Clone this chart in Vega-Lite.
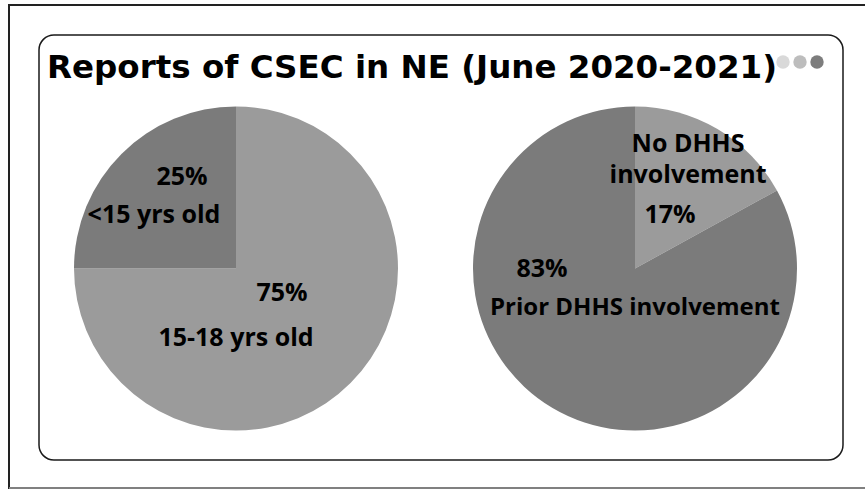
{
  "$schema": "https://vega.github.io/schema/vega-lite/v6.json",
  "width": 804,
  "height": 425,
  "autosize": {"type": "none"},
  "padding": {"left": 39, "top": 35, "right": 22, "bottom": 29},
  "background": "white",
  "config": {
    "view": {"stroke": "#1a1a1a", "strokeWidth": 1.5, "cornerRadius": 15},
    "font": "Open Sans"
  },
  "title": {
    "text": "Reports of CSEC in NE (June 2020-2021)",
    "anchor": "start",
    "font": "DejaVu Sans",
    "fontSize": 32.5,
    "fontWeight": "bold",
    "color": "black",
    "offset": -107,
    "baseline": "alphabetic",
    "dx": 39
  },
  "datasets": {
    "slices": [
      {"chart": "Age", "slice": "15-18 yrs old", "share": 0.75, "order": 1},
      {"chart": "Age", "slice": "<15 yrs old", "share": 0.25, "order": 2},
      {"chart": "DHHS", "slice": "No DHHS\ninvolvement", "share": 0.17, "order": 1},
      {"chart": "DHHS", "slice": "Prior DHHS involvement", "share": 0.83, "order": 2}
    ],
    "dots": [{"dot": "a"}, {"dot": "b"}, {"dot": "c"}]
  },
  "resolve": {"scale": {"x": "independent", "color": "independent"}},
  "layer": [
    {
      "data": {"values": [{}]},
      "mark": {"type": "rule", "color": "#222222", "strokeWidth": 2, "clip": false},
      "encoding": {"x": {"value": -30}, "x2": {"value": 830}, "y": {"value": -30}}
    },
    {
      "data": {"values": [{}]},
      "mark": {"type": "rule", "color": "#222222", "strokeWidth": 2, "clip": false},
      "encoding": {"x": {"value": -30}, "y": {"value": -31}, "y2": {"value": 454}}
    },
    {
      "data": {"values": [{}]},
      "mark": {"type": "rule", "color": "#808080", "strokeWidth": 2, "clip": false},
      "encoding": {"x": {"value": -30}, "x2": {"value": 830}, "y": {"value": 453}}
    },
    {
      "data": {"name": "dots"},
      "mark": {"type": "point", "filled": true, "opacity": 1, "size": 180, "yOffset": -185.5, "shape": "circle"},
      "encoding": {
        "x": {"field": "dot", "type": "nominal", "scale": {"type": "point", "domain": ["a", "b", "c"], "range": [744, 778], "padding": 0}, "axis": null},
        "color": {"field": "dot", "type": "nominal", "scale": {"domain": ["a", "b", "c"], "range": ["#d9d9d9", "#bdbdbd", "#7d7d7d"]}, "legend": null}
      }
    },
    {
      "layer": [
        {
          "data": {"name": "slices"},
          "transform": [
            {"stack": "share", "groupby": ["chart"], "sort": [{"field": "order"}], "as": ["t0", "t1"]}
          ],
          "mark": {"type": "arc", "outerRadius": 162, "yOffset": 21},
          "encoding": {
            "x": {"field": "chart", "type": "nominal", "scale": {"type": "point", "domain": ["Age", "DHHS"], "range": [197, 596], "padding": 0}, "axis": null},
            "theta": {"field": "t0", "type": "quantitative", "scale": {"domain": [0, 1]}, "stack": null},
            "theta2": {"field": "t1"},
            "color": {"field": "slice", "type": "nominal", "scale": {"domain": ["15-18 yrs old", "<15 yrs old", "No DHHS\ninvolvement", "Prior DHHS involvement"], "range": ["#9b9b9b", "#7b7b7b", "#9b9b9b", "#7b7b7b"]}, "legend": null}
          }
        },
        {
          "data": {"name": "slices"},
          "transform": [{"filter": "datum.slice === '<15 yrs old'"}],
          "mark": {"type": "text", "font": "Open Sans", "fontWeight": "bold", "fontSize": 25, "color": "black", "align": "center", "baseline": "alphabetic", "dx": -54, "dy": -62.5},
          "encoding": {"x": {"field": "chart", "type": "nominal"}, "text": {"field": "share", "type": "quantitative", "format": ".0%"}}
        },
        {
          "data": {"name": "slices"},
          "transform": [{"filter": "datum.slice === '<15 yrs old'"}],
          "mark": {"type": "text", "font": "Open Sans", "fontWeight": "bold", "fontSize": 25, "color": "black", "align": "center", "baseline": "alphabetic", "dx": -82, "dy": -24.5},
          "encoding": {"x": {"field": "chart", "type": "nominal"}, "text": {"field": "slice", "type": "nominal"}}
        },
        {
          "data": {"name": "slices"},
          "transform": [{"filter": "datum.slice === '15-18 yrs old'"}],
          "mark": {"type": "text", "font": "Open Sans", "fontWeight": "bold", "fontSize": 25, "color": "black", "align": "center", "baseline": "alphabetic", "dx": 46, "dy": 53},
          "encoding": {"x": {"field": "chart", "type": "nominal"}, "text": {"field": "share", "type": "quantitative", "format": ".0%"}}
        },
        {
          "data": {"name": "slices"},
          "transform": [{"filter": "datum.slice === '15-18 yrs old'"}],
          "mark": {"type": "text", "font": "Open Sans", "fontWeight": "bold", "fontSize": 25, "color": "black", "align": "center", "baseline": "alphabetic", "dx": 0, "dy": 98.5},
          "encoding": {"x": {"field": "chart", "type": "nominal"}, "text": {"field": "slice", "type": "nominal"}}
        },
        {
          "data": {"name": "slices"},
          "transform": [{"filter": "datum.order === 1 && datum.chart === 'DHHS'"}],
          "mark": {"type": "text", "font": "Open Sans", "fontWeight": "bold", "fontSize": 25, "color": "black", "align": "center", "baseline": "alphabetic", "dx": 53, "dy": -96, "lineBreak": "\n", "lineHeight": 31.5},
          "encoding": {"x": {"field": "chart", "type": "nominal"}, "text": {"field": "slice", "type": "nominal"}}
        },
        {
          "data": {"name": "slices"},
          "transform": [{"filter": "datum.order === 1 && datum.chart === 'DHHS'"}],
          "mark": {"type": "text", "font": "Open Sans", "fontWeight": "bold", "fontSize": 25, "color": "black", "align": "center", "baseline": "alphabetic", "dx": 35, "dy": -24.5},
          "encoding": {"x": {"field": "chart", "type": "nominal"}, "text": {"field": "share", "type": "quantitative", "format": ".0%"}}
        },
        {
          "data": {"name": "slices"},
          "transform": [{"filter": "datum.slice === 'Prior DHHS involvement'"}],
          "mark": {"type": "text", "font": "Open Sans", "fontWeight": "bold", "fontSize": 25, "color": "black", "align": "center", "baseline": "alphabetic", "dx": -93, "dy": 29.5},
          "encoding": {"x": {"field": "chart", "type": "nominal"}, "text": {"field": "share", "type": "quantitative", "format": ".0%"}}
        },
        {
          "data": {"name": "slices"},
          "transform": [{"filter": "datum.slice === 'Prior DHHS involvement'"}],
          "mark": {"type": "text", "font": "Open Sans", "fontWeight": "bold", "fontSize": 24, "color": "black", "align": "center", "baseline": "alphabetic", "dx": 0, "dy": 67.5},
          "encoding": {"x": {"field": "chart", "type": "nominal"}, "text": {"field": "slice", "type": "nominal"}}
        }
      ]
    }
  ]
}
